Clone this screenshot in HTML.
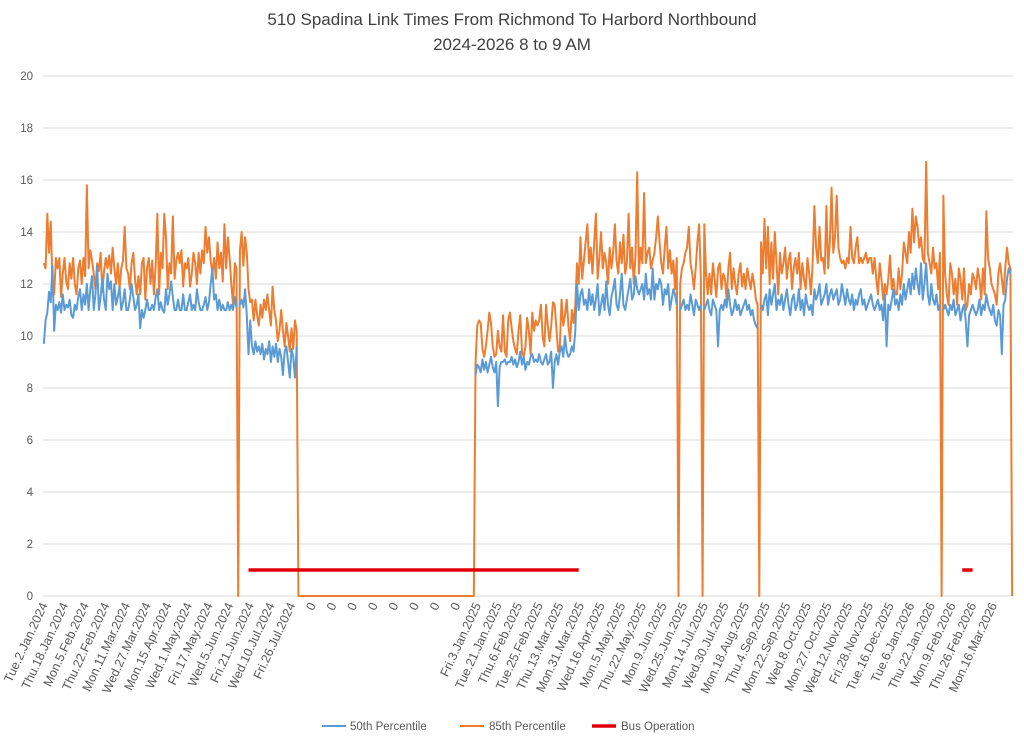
<!DOCTYPE html>
<html><head><meta charset="utf-8"><style>
body{margin:0;background:#fff;}
svg{display:block;font-family:"Liberation Sans",sans-serif;}
</style></head><body>
<svg id="chart" width="1024" height="740">
<text x="512" y="25" text-anchor="middle" font-size="17" fill="#404040">510 Spadina Link Times From Richmond To Harbord Northbound</text>
<text x="512" y="50" text-anchor="middle" font-size="17" fill="#404040">2024-2026 8 to 9 AM</text>
<g id="grid"></g>
<g id="xlabels"></g>
<g id="series"></g>
<g>
<g><line x1="322" y1="726" x2="346" y2="726" stroke="#5b9bd5" stroke-width="2"/><text x="350" y="730" font-size="11.5" fill="#595959">50th Percentile</text></g>
<g><line x1="460" y1="726" x2="484" y2="726" stroke="#ed7d31" stroke-width="2"/><text x="489" y="730" font-size="11.5" fill="#595959">85th Percentile</text></g>
<g><line x1="592" y1="726" x2="616" y2="726" stroke="#e00000" stroke-width="3.5"/><text x="621" y="730" font-size="11.5" fill="#595959">Bus Operation</text></g>
</g>
</svg>
<script>
const yTicks=[0,2,4,6,8,10,12,14,16,18,20];
const tickLabels=["Tue.2.Jan.2024","Thu.18.Jan.2024","Mon.5.Feb.2024","Thu.22.Feb.2024","Mon.11.Mar.2024","Wed.27.Mar.2024","Mon.15.Apr.2024","Wed.1.May.2024","Fri.17.May.2024","Wed.5.Jun.2024","Fri.21.Jun.2024","Wed.10.Jul.2024","Fri.26.Jul.2024","0","0","0","0","0","0","0","0","Fri.3.Jan.2025","Tue.21.Jan.2025","Thu.6.Feb.2025","Tue.25.Feb.2025","Thu.13.Mar.2025","Mon.31.Mar.2025","Wed.16.Apr.2025","Mon.5.May.2025","Thu.22.May.2025","Mon.9.Jun.2025","Wed.25.Jun.2025","Mon.14.Jul.2025","Wed.30.Jul.2025","Mon.18.Aug.2025","Thu.4.Sep.2025","Mon.22.Sep.2025","Wed.8.Oct.2025","Mon.27.Oct.2025","Wed.12.Nov.2025","Fri.28.Nov.2025","Tue.16.Dec.2025","Tue.6.Jan.2026","Thu.22.Jan.2026","Mon.9.Feb.2026","Thu.26.Feb.2026","Mon.16.Mar.2026"];
const p50A=[9.7,10.6,10.9,11.7,11.3,12.7,10.2,11.2,11.0,11.3,10.9,11.6,11.0,11.2,11.1,11.4,10.8,10.7,11.2,11.0,11.5,11.8,11.0,11.6,11.2,12.0,11.0,11.8,12.3,11.0,11.6,12.7,11.0,11.5,12.2,11.4,11.0,12.4,11.8,12.1,11.0,12.0,11.2,11.5,11.9,11.0,11.3,11.8,11.0,11.0,11.4,12.0,11.5,11.0,11.2,11.6,10.3,11.0,10.7,11.0,11.4,11.0,11.0,11.2,11.0,11.5,11.8,11.0,11.3,11.0,10.9,11.8,11.2,11.6,12.1,11.5,11.0,11.0,11.4,11.0,11.0,11.6,11.0,11.0,11.3,11.6,11.0,11.2,11.0,11.8,11.3,11.0,11.0,11.2,11.5,11.0,11.3,12.0,12.6,11.4,11.6,11.0,11.4,11.0,11.2,11.0,11.0,11.3,11.0,11.2,11.0,11.5,11.1];
const p85A=[12.8,12.6,14.7,13.2,14.4,12.0,11.6,13.0,12.6,13.0,11.5,12.4,13.0,12.1,11.8,12.8,12.2,13.0,12.0,11.6,12.6,12.9,12.0,13.0,12.3,15.8,12.6,13.3,12.9,12.4,11.8,12.8,12.5,13.2,11.7,12.5,13.0,12.6,13.1,12.4,13.4,12.6,12.0,12.8,11.8,12.6,12.9,14.2,12.6,12.4,11.8,12.8,13.2,12.2,11.6,12.3,11.6,12.8,13.0,11.4,12.6,13.0,12.0,12.9,11.6,12.7,14.7,11.6,13.2,12.6,14.7,13.8,11.8,12.8,12.4,14.6,12.2,12.9,13.2,12.8,13.3,11.9,12.8,12.6,13.0,11.9,12.4,13.2,12.8,12.0,13.2,12.4,13.3,12.8,14.2,13.2,13.8,12.9,12.4,13.0,12.2,13.6,12.6,13.2,12.1,14.3,12.6,13.8,13.0,12.0,11.2,12.8,12.6];
const p50B=[11.2,11.4,11.1,11.8,10.8,9.3,10.6,9.6,9.3,9.8,9.4,9.6,9.3,9.7,9.1,9.5,9.3,9.8,9.0,9.6,9.2,9.7,9.0,9.5,9.2,8.5,9.4,9.6,9.0,8.4,9.5,9.2,8.4,9.6];
const p85B=[13.3,14.0,12.7,13.8,13.2,11.8,11.3,11.4,10.6,11.4,10.8,10.4,11.2,10.7,11.4,11.0,11.6,11.0,10.4,11.9,11.0,10.6,9.8,10.2,11.0,10.2,9.6,10.5,10.0,9.4,10.3,9.5,10.6,10.2];
const gapLength=103;
const p50C=[8.5,8.9,8.8,8.6,9.1,8.7,9.0,8.6,8.9,9.2,8.8,8.6,9.0,7.3,8.8,9.0,9.0,9.1,8.9,9.0,9.0,9.2,8.9,9.1,8.8,9.0,9.4,8.9,9.2,8.7,9.0,8.9,9.2,9.3,9.0,9.1,9.0,9.3,9.0,8.9,9.1,9.3,8.9,9.0,9.4,8.0,9.0,9.3,8.9,9.4,9.6,9.2,10.0,9.4,9.2,9.3,9.6,9.4,10.2];
const p85C=[9.0,10.4,10.6,10.5,9.5,9.2,9.6,10.2,10.9,10.5,9.6,9.2,9.3,10.2,9.6,9.4,10.8,9.4,9.2,10.6,10.9,10.3,9.8,9.5,9.3,10.2,10.8,9.4,9.2,9.6,10.7,10.2,9.3,10.9,10.2,10.6,10.4,10.6,11.2,10.0,9.6,11.2,10.4,9.8,10.4,11.3,11.2,10.3,9.4,9.6,11.4,10.4,10.8,11.4,10.4,9.8,11.0,10.5,11.2];
const p50D1=[12.0,11.0,11.6,11.8,11.2,11.4,11.0,11.8,11.2,11.6,11.0,11.4,12.0,10.8,11.2,11.6,11.0,12.1,11.2,10.8,11.5,11.8,12.2,11.2,11.0,11.6,12.4,11.2,11.0,11.4,11.8,12.2,11.4,11.6,12.3,11.8,11.6,11.8,12.0,11.4,12.4,11.6,11.8,11.4,12.6,11.4,12.0,11.8,12.2,12.0,11.2,11.8,11.6,12.0,11.0,11.4,11.8,11.6,11.2];
const p85D1=[12.8,12.0,13.8,12.2,12.9,13.6,14.3,12.8,13.4,12.4,13.6,14.7,12.2,13.0,14.0,12.6,13.2,12.8,12.0,13.4,12.6,13.2,14.3,12.9,12.4,13.6,12.8,13.9,12.4,12.8,14.7,12.6,13.4,12.0,13.1,16.3,12.4,13.4,12.8,15.5,12.8,13.2,13.4,12.6,12.9,13.2,13.8,14.6,13.6,12.8,12.4,13.4,14.2,12.6,13.3,12.4,12.9,11.8,13.0];
const p50D2=[11.0,11.2,11.4,11.0,11.2,11.0,11.6,11.2,10.8,11.4,11.2,11.0,11.2];
const p85D2=[12.0,12.6,12.8,13.2,13.4,14.2,12.8,12.4,11.8,12.6,13.6,14.3,12.2];
const p50D3=[11.0,11.2,11.4,11.0,10.8,11.4,11.2,11.0,9.6,11.0,11.2,11.0,11.4,11.1,11.8,11.2,10.8,11.0,11.4,11.0,11.2,10.8,11.0,11.2,11.4,11.0,11.2,10.8,11.0,10.6,10.4,10.3];
const p85D3=[14.3,12.4,11.6,12.4,11.6,12.8,12.2,11.5,12.6,12.8,11.8,12.4,12.2,11.4,12.6,13.2,11.8,12.6,12.0,11.6,12.4,12.8,11.9,12.4,11.8,12.6,12.2,11.8,12.4,12.0,11.4,11.2];
const p50D4=[11.2,11.0,11.4,11.6,10.8,11.8,11.2,11.6,12.0,11.0,11.4,11.2,11.6,11.0,11.4,11.8,11.2,10.8,11.4,11.6,11.0,11.2,11.8,11.0,11.4,10.8,11.6,11.2,11.0,11.2,10.8,11.8,11.4,11.6,12.0,11.2,11.4,11.6,12.0,11.2,11.6,11.8,11.4,11.6,11.8,11.2,11.4,12.0,11.6,11.2,11.8,11.4,11.2,11.6,11.0,11.4,11.2,11.6,11.8,11.2,11.4,11.0,11.2,11.4,11.6,11.2,11.0,11.2,11.4,11.0,11.2,10.6,11.6,9.6,11.2,11.0,11.4,11.8,11.2,11.4,11.0,11.6,11.2,12.0,11.4,11.8,12.2,11.6,12.4,11.8,12.6,12.0,11.6,12.8,11.4,12.0,12.8,11.6,11.2,12.0,11.4,11.2,11.6,11.0,11.2];
const p85D4=[13.6,12.4,14.5,12.6,14.2,12.0,13.6,12.2,14.0,12.8,11.6,13.2,12.4,12.8,13.4,12.2,12.9,13.2,11.8,12.6,13.0,12.4,13.2,11.8,12.8,12.2,11.8,13.0,12.4,11.6,12.8,15.0,13.4,12.8,14.2,12.9,13.0,12.4,15.0,12.6,13.6,15.7,13.2,13.8,15.4,13.4,13.0,12.8,12.9,12.6,13.0,12.8,14.2,13.0,12.8,13.4,13.8,12.8,13.0,12.8,13.0,13.2,12.8,13.0,13.0,12.4,13.0,12.2,11.6,12.8,12.2,11.4,12.0,11.6,12.2,13.1,11.8,12.2,11.6,11.6,12.6,11.8,12.4,13.6,13.2,12.8,14.0,13.2,14.9,13.6,14.6,14.2,13.4,13.8,13.0,12.8,16.7,13.2,12.8,12.4,13.4,12.6,12.8,11.8,13.2];
const p50D5=[11.0,11.2,11.0,10.8,11.2,11.0,11.4,10.8,11.0,11.2,10.6,11.0,11.2,10.6,9.6,10.8,11.0,11.2,11.0,10.8,11.0,11.4,10.8,11.2,11.0,11.6,11.2,11.0,10.8,11.2,10.6,10.4,11.0,10.8,9.3,11.2,11.4,12.2,12.6,12.4];
const p85D5=[15.4,12.4,11.6,11.2,12.8,12.4,11.6,12.2,11.2,12.6,12.2,11.4,12.6,11.0,11.2,12.0,11.6,12.4,12.2,11.8,12.6,12.2,11.4,12.6,11.6,14.8,13.0,12.6,12.0,11.8,11.6,11.2,12.4,12.8,12.2,11.6,12.6,13.4,12.8,12.6];
const busValue=1;
const busRanges=[[119,311],[534,540]];

const gap50=Array(gapLength).fill(null), gap85=Array(gapLength).fill(0);
const p50=[].concat(p50A,[null],p50B,gap50,p50C,p50D1,[null],p50D2,[null],p50D3,[null],p50D4,[null],p50D5,[null]);
const p85=[].concat(p85A,[0],p85B,gap85,p85C,p85D1,[0],p85D2,[0],p85D3,[0],p85D4,[0],p85D5,[0]);
const N=p85.length;
const X0=43,X1=1013,Y0=596,YMAX=20,PH=520;
const xs=i=>X0+(i+0.5)*(X1-X0)/N;
const ys=v=>Y0-v/YMAX*PH;
const NS="http://www.w3.org/2000/svg";
function mk(tag,attrs,parent){const e=document.createElementNS(NS,tag);for(const k in attrs)e.setAttribute(k,attrs[k]);parent.appendChild(e);return e;}
const grid=document.getElementById('grid');
yTicks.forEach(t=>{
  const l=mk('line',{x1:X0,x2:X1,y1:ys(t),y2:ys(t),stroke:'#d9d9d9','stroke-width':1},grid);
  
  
  const tx=mk('text',{x:33,y:ys(t)+4,'text-anchor':'end','font-size':11.5,fill:'#595959'},grid);
  tx.textContent=t;
  
  
});
const xl=document.getElementById('xlabels');
tickLabels.forEach((lab,i)=>{
  const x=xs(i*12)+4,y=605;
  const t=mk('text',{x:x,y:y,'text-anchor':'end','font-size':12.5,fill:'#595959',transform:`rotate(-65 ${x} ${y})`},xl);
  t.textContent=lab;
  
  
});
const sg=document.getElementById('series');
function pathFor(arr){let d='',pen=false;arr.forEach((v,i)=>{if(v===null){pen=false;return;}d+=(pen?'L':'M')+xs(i).toFixed(2)+','+ys(v).toFixed(2);pen=true;});return d;}
const o=mk('path',{d:pathFor(p85),fill:'none',stroke:'#ed7d31','stroke-width':2,'stroke-linejoin':'round'},sg);


const b=mk('path',{d:pathFor(p50),fill:'none',stroke:'#5b9bd5','stroke-width':2,'stroke-linejoin':'round'},sg);


busRanges.forEach(r=>{
  const l=mk('line',{x1:xs(r[0]),x2:xs(r[1]),y1:ys(busValue),y2:ys(busValue),stroke:'#e00000','stroke-width':3.5},sg);
  
  
});
</script>
</body></html>
